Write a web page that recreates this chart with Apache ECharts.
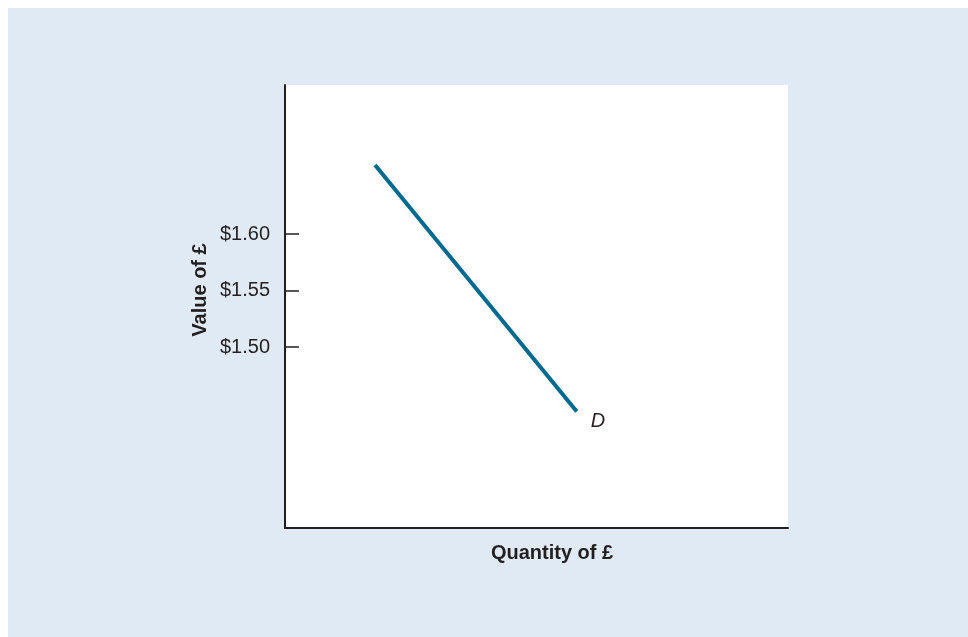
<!DOCTYPE html>
<html><head><meta charset="utf-8">
<script src="https://cdn.jsdelivr.net/npm/echarts@6/dist/echarts.min.js"></script>
<style>html,body{margin:0;padding:0;background:#ffffff;}#c{position:absolute;left:8px;top:8px;width:960px;height:629px;}</style>
</head><body><div id="c"></div>
<script>
const quantity = [17.9, 58.0];
const value = [1.661, 1.443];
const tickValues = [1.50, 1.55, 1.60];
const curveLabel = 'D';
const yTitle = 'Value of £';
const xTitle = 'Quantity of £';

const chart = echarts.init(document.getElementById('c'));
const font = '"Liberation Sans", Arial, sans-serif';
chart.setOption({
  backgroundColor: '#e0eaf4',
  animation: false,
  grid: {left: 277, top: 77, right: 180, bottom: 109, show: true, backgroundColor: '#ffffff', borderWidth: 0},
  xAxis: {
    type: 'value', min: 0, max: 100,
    axisLine: {show: true, lineStyle: {color: '#231f20', width: 2}},
    axisTick: {show: false}, axisLabel: {show: false}, splitLine: {show: false}
  },
  yAxis: {
    type: 'value', min: 1.3398, max: 1.7319,
    axisLine: {show: true, lineStyle: {color: '#231f20', width: 2}},
    axisTick: {show: true, inside: true, length: 14, customValues: tickValues, lineStyle: {color: '#231f20', width: 1.5}},
    axisLabel: {show: true, customValues: tickValues, margin: 15, color: '#231f20', fontSize: 20, fontFamily: font,
      formatter: v => '$' + v.toFixed(2)},
    splitLine: {show: false}
  },
  graphic: [
    {type: 'text', x: 192, y: 282, rotation: Math.PI/2, style: {text: yTitle, font: 'bold 20px ' + font, fill: '#231f20', align: 'center', verticalAlign: 'middle'}},
    {type: 'text', x: 544, y: 545, style: {text: xTitle, font: 'bold 20px ' + font, fill: '#231f20', align: 'center', verticalAlign: 'middle'}}
  ],
  series: [{
    type: 'line',
    data: quantity.map((q, i) => [q, value[i]]),
    showSymbol: false, symbol: 'none',
    lineStyle: {color: '#00698f', width: 4, cap: 'butt'},
    endLabel: {show: true, formatter: curveLabel, offset: [6, 10], fontStyle: 'italic', fontSize: 20, fontFamily: font, color: '#231f20'}
  }]
});
</script></body></html>
